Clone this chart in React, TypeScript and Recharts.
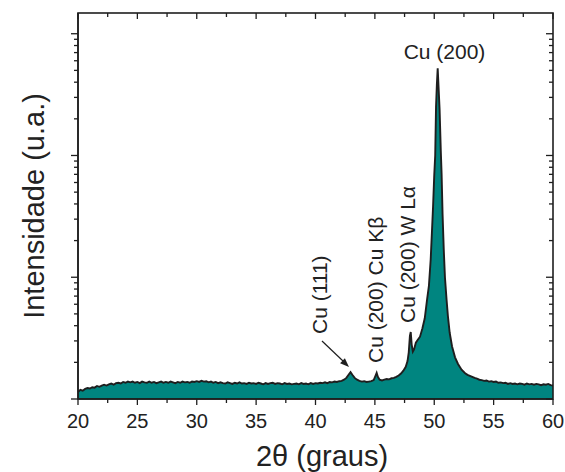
import React from 'react';
import { ComposedChart, Area, XAxis, YAxis } from 'recharts';

// 2θ positions (graus) and intensity (u.a., log axis)
const theta = [
  20.0, 20.2, 20.4, 20.6, 20.8, 21.0, 21.2, 21.4, 21.6, 21.8,
  22.0, 22.2, 22.4, 22.6, 22.8, 23.0, 23.2, 23.4, 23.6, 23.8,
  24.0, 24.2, 24.4, 24.6, 24.8, 25.0, 25.2, 25.4, 25.6, 25.8,
  26.0, 26.2, 26.4, 26.6, 26.8, 27.0, 27.2, 27.4, 27.6, 27.8,
  28.0, 28.2, 28.4, 28.6, 28.8, 29.0, 29.2, 29.4, 29.6, 29.8,
  30.0, 30.2, 30.4, 30.6, 30.8, 31.0, 31.2, 31.4, 31.6, 31.8,
  32.0, 32.2, 32.4, 32.6, 32.8, 33.0, 33.2, 33.4, 33.6, 33.8,
  34.0, 34.2, 34.4, 34.6, 34.8, 35.0, 35.2, 35.4, 35.6, 35.8,
  36.0, 36.2, 36.4, 36.6, 36.8, 37.0, 37.2, 37.4, 37.6, 37.8,
  38.0, 38.2, 38.4, 38.6, 38.8, 39.0, 39.2, 39.4, 39.6, 39.8,
  40.0, 40.2, 40.4, 40.6, 40.8, 41.0, 41.2, 41.4, 41.6, 41.8,
  42.0, 42.2, 42.4, 42.6, 42.8, 42.95, 43.1, 43.3, 43.5, 43.7,
  43.9, 44.1, 44.3, 44.5, 44.7, 44.9, 45.05, 45.15, 45.25, 45.4,
  45.6, 45.8, 46.0, 46.2, 46.4, 46.6, 46.8, 47.0, 47.2, 47.4,
  47.6, 47.75, 47.85, 47.95, 48.02, 48.1, 48.2, 48.3, 48.45, 48.6,
  48.8, 49.0, 49.2, 49.4, 49.55, 49.7, 49.8, 49.9, 50.0, 50.08,
  50.15, 50.22, 50.29, 50.36, 50.45, 50.55, 50.62, 50.7, 50.8, 50.9,
  51.04, 51.15, 51.3, 51.5, 51.75, 52.0, 52.3, 52.6, 52.8, 53.0,
  53.2, 53.4, 53.6, 53.8, 54.0, 54.2, 54.4, 54.6, 54.8, 55.0,
  55.2, 55.4, 55.6, 55.8, 56.0, 56.2, 56.4, 56.6, 56.8, 57.0,
  57.2, 57.4, 57.6, 57.8, 58.0, 58.2, 58.4, 58.6, 58.8, 59.0,
  59.2, 59.4, 59.6, 59.8, 60.0,
];

const intensity = [
  11.4, 11.9, 11.7, 12.1, 12.3, 12.2, 12.5, 12.4, 12.8, 12.6,
  12.9, 13.1, 12.9, 13.2, 13.4, 13.1, 13.5, 13.6, 13.4, 13.8,
  13.6, 13.9, 13.7, 13.9, 13.6, 13.8, 13.5, 13.9, 13.7, 13.6,
  13.9, 13.6, 13.8, 13.5, 13.7, 13.9, 13.6, 13.8, 13.6, 13.9,
  13.7, 13.5, 13.8, 13.6, 13.9, 13.7, 13.8, 13.6, 13.9, 13.8,
  14.0, 13.8, 14.1, 13.9, 14.0, 13.7, 13.9, 13.6, 13.8, 13.5,
  13.7, 13.5, 13.4, 13.7, 13.5, 13.3, 13.6, 13.4, 13.7, 13.4,
  13.5, 13.3, 13.6, 13.4, 13.5, 13.3, 13.6, 13.4, 13.2, 13.5,
  13.3, 13.5, 13.6, 13.3, 13.5, 13.4, 13.2, 13.5, 13.3, 13.4,
  13.2, 13.3, 13.4, 13.2, 13.5, 13.3, 13.4, 13.2, 13.5, 13.3,
  13.5, 13.4, 13.6, 13.5, 13.7, 13.5, 13.8, 13.7, 13.9, 13.8,
  14.0, 14.1, 14.4, 14.9, 15.9, 16.6, 15.8, 14.9, 14.4, 14.1,
  13.9, 14.0, 13.8, 13.9, 14.0, 14.3, 15.5, 16.4, 15.2, 14.4,
  14.2, 14.4, 14.6, 14.5, 14.8, 14.9, 15.2, 15.6, 16.2, 17.1,
  18.4, 20.5, 24.0, 33.0, 35.5, 28.0, 24.5, 25.5, 29.0, 30.5,
  32.5, 38.0, 46.0, 66.0, 85, 140, 230, 380, 690, 1000,
  2500, 3800, 5200, 3700, 2400, 1100, 700, 330, 170, 100,
  65, 48, 35, 27, 22, 19.4, 17.4, 16.3, 15.8, 15.5,
  15.2, 14.9, 14.7, 14.4, 14.3, 14.1, 14.2, 13.9, 14.0, 13.8,
  13.9, 13.6, 13.7, 13.5, 13.6, 13.3, 13.5, 13.3, 13.4, 13.2,
  13.4, 13.3, 13.1, 13.4, 13.2, 13.3, 13.1, 13.3, 13.2, 13.0,
  13.2, 13.1, 13.3, 13.0, 12.9,
];

const xTicks = [
  20, 22.5, 25, 27.5, 30, 32.5, 35, 37.5, 40, 42.5, 45, 47.5, 50, 52.5, 55, 57.5, 60,
];

const yTicks = [
  10, 20, 30, 40, 50, 60, 70, 80, 90,
  100, 200, 300, 400, 500, 600, 700, 800, 900,
  1000, 2000, 3000, 4000, 5000, 6000, 7000, 8000, 9000,
  10000,
];
const yMajor = [10, 100, 1000, 10000];

const X_DOMAIN: [number, number] = [20, 60];
const Y_DOMAIN: [number, number] = [10, 14800];

const data = theta.map((t, i) => ({ theta: t, intensity: intensity[i] }));

const INK = '#1e1e1e';
const TEAL = '#008580';
const FONT = '"Liberation Sans", Arial, sans-serif';

// plot box (same as chart margins + axis sizes below)
const W = 565;
const H = 472;
const LEFT = 78;
const TOP = 13;
const RIGHT = 553;
const BOTTOM = 399;

const axisLine = { stroke: INK, strokeWidth: 1.5 };

const xPx = (t: number) => LEFT + ((t - X_DOMAIN[0]) / (X_DOMAIN[1] - X_DOMAIN[0])) * (RIGHT - LEFT);
const yPx = (v: number) =>
  BOTTOM -
  ((Math.log10(v) - Math.log10(Y_DOMAIN[0])) / (Math.log10(Y_DOMAIN[1]) - Math.log10(Y_DOMAIN[0]))) *
    (BOTTOM - TOP);

function BottomTick({ x, y, payload }: any) {
  const major = payload.value % 5 === 0;
  return (
    <g>
      <line x1={x} x2={x} y1={y} y2={y + (major ? 6 : 4)} stroke={INK} strokeWidth={1.3} />
      {major && (
        <text x={x} y={y + 29} textAnchor="middle" fontSize={20} fontFamily={FONT} fill="#222">
          {payload.value}
        </text>
      )}
    </g>
  );
}

function LeftTick({ x, y, payload }: any) {
  const major = yMajor.includes(payload.value);
  return <line x1={x - (major ? 7 : 4)} x2={x} y1={y} y2={y} stroke={INK} strokeWidth={1.3} />;
}

// top and right edges of the box, ticks pointing inward
function Frame() {
  return (
    <g>
      <rect
        x={LEFT}
        y={TOP}
        width={RIGHT - LEFT}
        height={BOTTOM - TOP}
        fill="none"
        stroke={INK}
        strokeWidth={1.6}
      />
      {xTicks.map((t) => (
        <path
          key={`tx${t}`}
          d={`M${xPx(t)},${TOP}V${TOP + (t % 5 === 0 ? 6 : 4)}`}
          stroke={INK}
          strokeWidth={1.3}
        />
      ))}
      {yTicks.map((v) => (
        <path
          key={`ry${v}`}
          d={`M${RIGHT - (yMajor.includes(v) ? 7 : 4)},${yPx(v)}H${RIGHT}`}
          stroke={INK}
          strokeWidth={1.3}
        />
      ))}
    </g>
  );
}

export default function App() {
  const textStyle = { fontFamily: FONT, fill: '#222' };
  return (
    <div style={{ position: 'absolute', left: 0, top: 0, width: W, height: H }}>
      <ComposedChart
        width={W}
        height={H}
        data={data}
        margin={{ top: TOP, right: W - RIGHT, bottom: 0, left: 0 }}
      >
        <XAxis
          dataKey="theta"
          type="number"
          domain={X_DOMAIN}
          ticks={xTicks}
          interval={0}
          allowDataOverflow
          height={H - BOTTOM}
          tickSize={0}
          tickMargin={0}
          axisLine={axisLine}
          tickLine={false}
          tick={<BottomTick />}
        />
        <YAxis
          scale="log"
          type="number"
          domain={Y_DOMAIN}
          ticks={yTicks}
          interval={0}
          allowDataOverflow
          width={LEFT}
          tickSize={0}
          tickMargin={0}
          axisLine={axisLine}
          tickLine={false}
          tick={<LeftTick />}
        />
        <Area
          type="linear"
          dataKey="intensity"
          baseValue={10}
          stroke={INK}
          strokeWidth={1.9}
          fill={TEAL}
          fillOpacity={1}
          dot={false}
          activeDot={false}
          isAnimationActive={false}
        />
      </ComposedChart>
      <svg
        width={W}
        height={H}
        style={{ position: 'absolute', left: 0, top: 0, pointerEvents: 'none' }}
      >
        <Frame />
        <text x={444.5} y={59} textAnchor="middle" fontSize={21} style={textStyle}>
          Cu (200)
        </text>
        <text x={327} y={334} fontSize={21} transform="rotate(-90 327 334)" style={textStyle}>
          Cu (111)
        </text>
        <text x={383} y={363} fontSize={21} transform="rotate(-90 383 363)" style={textStyle}>
          Cu (200) Cu Kβ
        </text>
        <text x={415} y={323} fontSize={21} transform="rotate(-90 415 323)" style={textStyle}>
          Cu (200) W Lα
        </text>
        <line x1={322} y1={341} x2={343} y2={361} stroke={INK} strokeWidth={1.2} />
        <polygon points="349,367 340.1,363.3 344.9,358.3" fill={INK} />
        <text
          x={44}
          y={206}
          textAnchor="middle"
          fontSize={29}
          transform="rotate(-90 44 206)"
          style={textStyle}
        >
          Intensidade (u.a.)
        </text>
        <text x={322} y={466} textAnchor="middle" fontSize={29} style={textStyle}>
          2θ (graus)
        </text>
      </svg>
    </div>
  );
}
